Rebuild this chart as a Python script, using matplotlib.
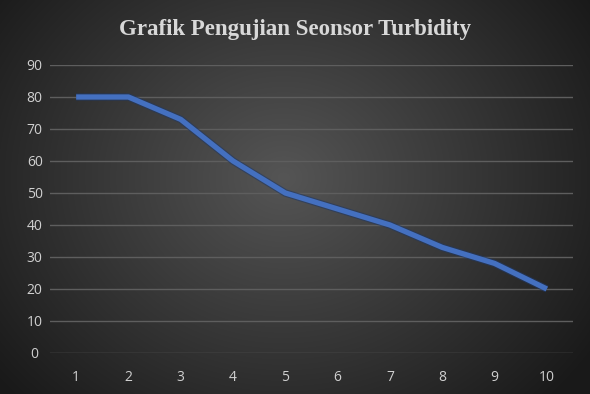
import numpy as np
import matplotlib
matplotlib.use("Agg")
import matplotlib.pyplot as plt

categories = [1, 2, 3, 4, 5, 6, 7, 8, 9, 10]
values = [80, 80, 73, 60, 50, 45, 40, 33, 28, 20]
yticks = [0, 10, 20, 30, 40, 50, 60, 70, 80, 90]
title = "Grafik Pengujian Seonsor Turbidity"

W, H = 590, 394
fig = plt.figure(figsize=(W / 100, H / 100), dpi=100)

# radial gradient background
bg = fig.add_axes([0, 0, 1, 1], zorder=-10)
yy, xx = np.mgrid[0:H, 0:W]
cx, cy = W * 0.48, H * 0.45
r = np.sqrt(((xx - cx) / (W * 0.62)) ** 2 + ((yy - cy) / (H * 0.8)) ** 2)
r = np.clip(r, 0, 1)
inner = np.array([0x55, 0x55, 0x55]) / 255
outer = np.array([0x1a, 0x1a, 0x1a]) / 255
img = inner[None, None, :] * (1 - r[..., None]) + outer[None, None, :] * r[..., None]
bg.imshow(img, aspect="auto", extent=[0, 1, 0, 1], origin="upper")
bg.set_axis_off()

ax = fig.add_axes([50 / W, 41 / H, 523 / W, 288 / H])
ax.set_facecolor("none")
x = np.arange(len(categories))
ax.plot(x, values, color="#203864", lw=5.4, solid_capstyle="butt", alpha=0.6, zorder=2)
ax.plot(x, values, color="#4470c0", lw=3.8, solid_capstyle="butt", zorder=3)
ax.set_xlim(-0.5, len(categories) - 0.5)
ax.set_ylim(0, 90)
ax.set_yticks(yticks)
ax.set_xticks(x)
ax.set_xticklabels([str(c) for c in categories])
ax.grid(axis="y", color="#5e5e5e", lw=1.0)
ax.set_axisbelow(True)
for s in ax.spines.values():
    s.set_visible(False)
ax.tick_params(length=0, colors="#d0d0d0", labelsize=10, pad=12)
ax.tick_params(axis="y", pad=11)
for lab in ax.get_yticklabels():
    lab.set_horizontalalignment("center")
for lab in ax.get_xticklabels() + ax.get_yticklabels():
    lab.set_fontfamily("Open Sans")

fig.text(0.5, 1 - 30 / H, title, ha="center", va="center", color="#d8d8d8",
         fontsize=16.5, fontweight="bold", family="Liberation Serif")

fig.savefig("out.png", dpi=100)
